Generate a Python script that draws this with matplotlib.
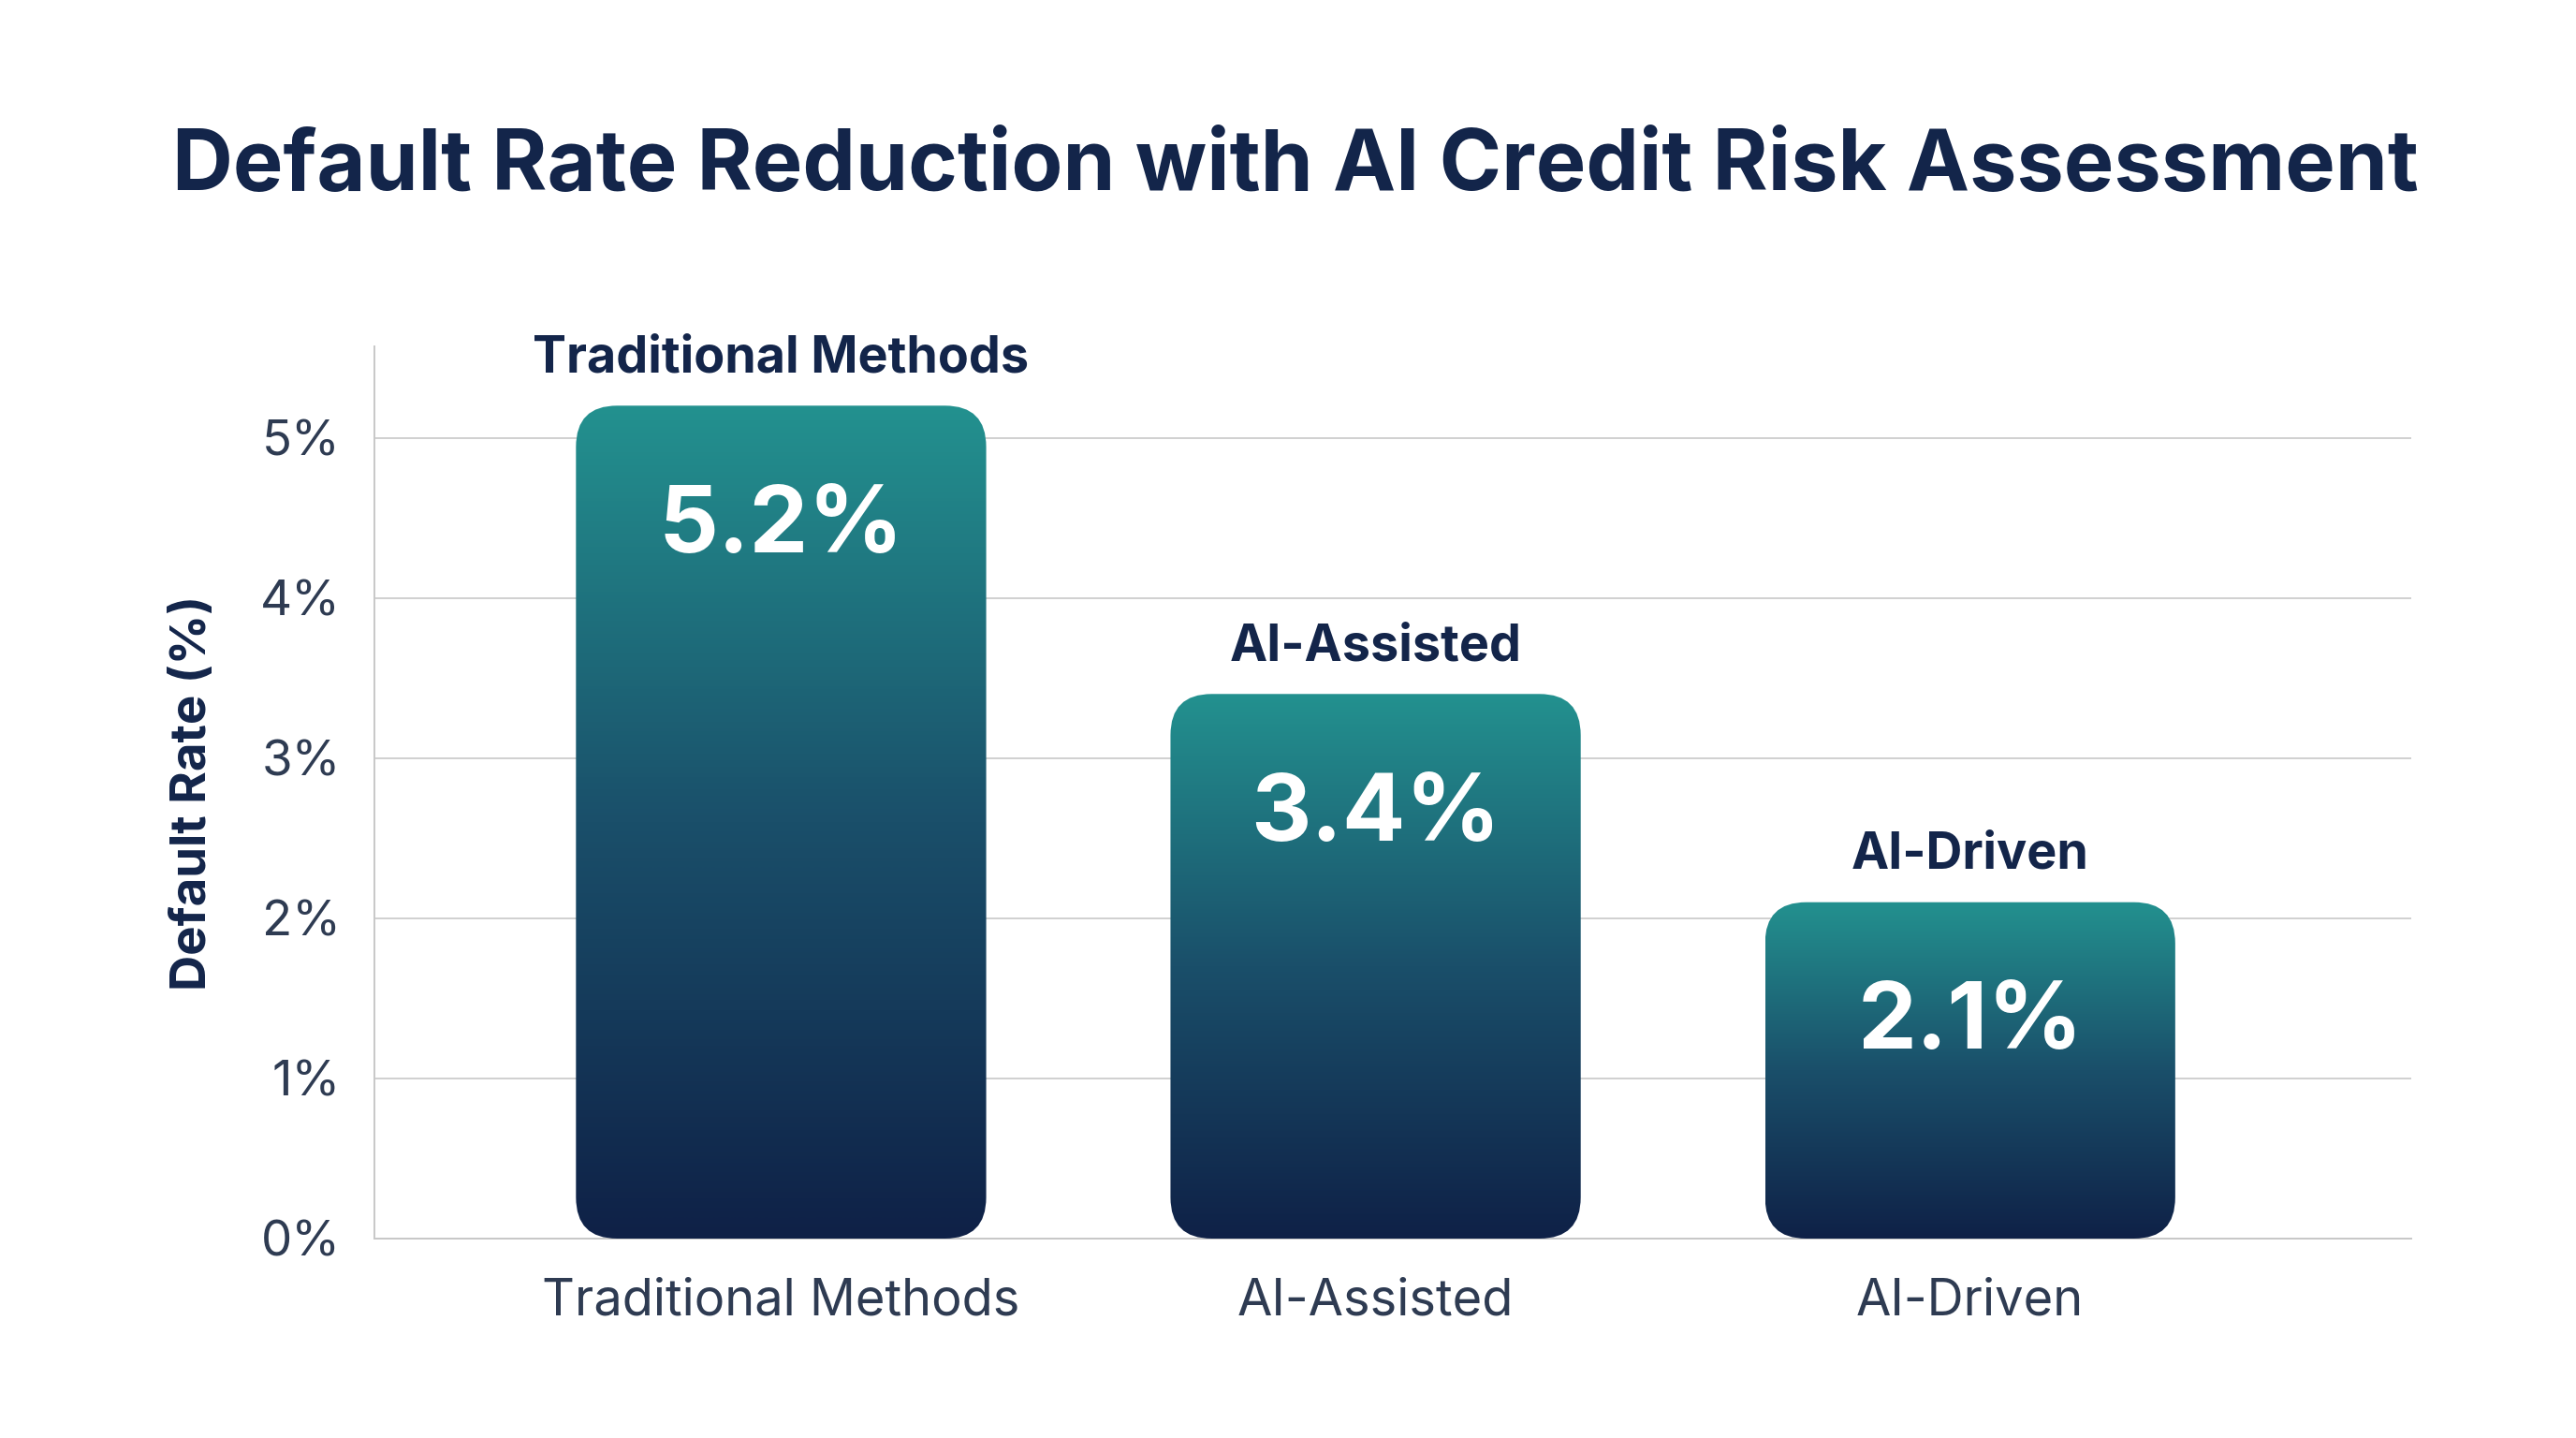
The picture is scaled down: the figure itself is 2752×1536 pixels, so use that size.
import matplotlib
matplotlib.use("Agg")
import matplotlib.pyplot as plt
import numpy as np
from matplotlib.patches import FancyBboxPatch
from matplotlib.colors import LinearSegmentedColormap

categories = ["Traditional Methods", "AI-Assisted", "AI-Driven"]
values = [5.2, 3.4, 2.1]
value_labels = ["5.2%", "3.4%", "2.1%"]
yticks = [0, 1, 2, 3, 4, 5]
ytick_labels = ["0%", "1%", "2%", "3%", "4%", "5%"]
title = "Default Rate Reduction with AI Credit Risk Assessment"
ylabel = "Default Rate (%)"

plt.rcParams['font.family'] = ['Inter', 'DejaVu Sans']

NAVY = "#13254a"
SLATE = "#2e3b52"
TEAL = "#23918f"
DARK = "#0f2147"

W, H, DPI = 13.76, 7.68, 200
L, R, B, T = 400, 2576, 1323, 370
fig = plt.figure(figsize=(W, H), dpi=DPI, facecolor="white")
ax = fig.add_axes([L/2752, 1 - B/1536, (R-L)/2752, (B-T)/1536])
ax.set_facecolor("white")

xlim = (-0.684, 2.742)
ylim = (0, 5.57)
ax.set_xlim(*xlim)
ax.set_ylim(*ylim)

x = np.arange(len(categories))
bar_w = 0.69

px_per_x = (R - L) / (xlim[1] - xlim[0])
px_per_y = (B - T) / (ylim[1] - ylim[0])
aspect = px_per_x / px_per_y
r_px = 44
r_x = r_px / px_per_x

cmap = LinearSegmentedColormap.from_list("g", [DARK, "#1a4f6a", TEAL])
grad = np.linspace(0, 1, 256).reshape(-1, 1)

for xi, v, lab, cat in zip(x, values, value_labels, categories):
    patch = FancyBboxPatch((xi - bar_w/2, 0), bar_w, v,
                           boxstyle=f"round,pad=0,rounding_size={r_x}",
                           mutation_aspect=aspect,
                           facecolor="none", edgecolor="none", zorder=3)
    ax.add_patch(patch)
    im = ax.imshow(grad, cmap=cmap, origin="lower", aspect="auto",
                   extent=(xi - bar_w/2, xi + bar_w/2, 0, v), zorder=3,
                   interpolation="bicubic")
    im.set_clip_path(patch)
    ax.annotate(lab, (xi, v), xytext=(0, -47), textcoords="offset points",
                ha="center", va="center", color="white", fontsize=36,
                fontweight="bold", zorder=5)
    ax.annotate(cat, (xi, v), xytext=(0, 9), textcoords="offset points",
                ha="center", va="bottom", color=NAVY, fontsize=19.4,
                fontweight="bold", zorder=5)

ax.set_xlim(*xlim)
ax.set_ylim(*ylim)

ax.set_yticks(yticks)
ax.set_yticklabels(ytick_labels, fontsize=19, color=SLATE)
ax.set_xticks(x)
ax.set_xticklabels(categories, fontsize=19.5, color=SLATE)
ax.tick_params(axis="both", length=0)
ax.tick_params(axis="y", pad=13)
ax.tick_params(axis="x", pad=15)

ax.grid(axis="y", color="#d0d0d0", linewidth=0.7, zorder=0)
ax.set_axisbelow(True)
for s in ["top", "right"]:
    ax.spines[s].set_visible(False)
ax.spines["left"].set_color("#c8c8c8")
ax.spines["left"].set_linewidth(0.7)
ax.spines["bottom"].set_color("#c8c8c8")
ax.spines["bottom"].set_linewidth(0.7)

ax.set_ylabel(ylabel, fontsize=19, fontweight="bold", color=NAVY, labelpad=17)

fig.text(0.503, 1 - 179/1536, title, ha="center", va="center",
         fontsize=32.4, fontweight="bold", color=NAVY)

fig.savefig("out.png", dpi=DPI, facecolor="white")
